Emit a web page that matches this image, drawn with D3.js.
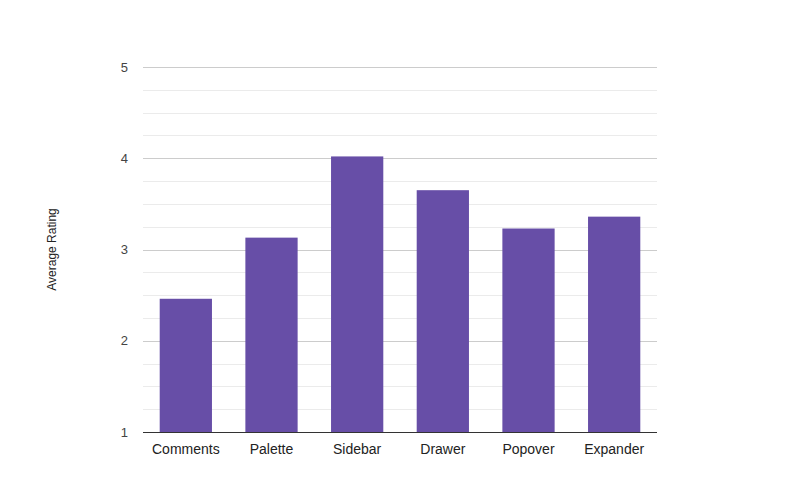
<!DOCTYPE html>
<html>
<head>
<meta charset="utf-8">
<script src="https://cdn.jsdelivr.net/npm/d3@7"></script>
<style>
  body { margin: 0; background: #fff; }
  svg { font-family: "Liberation Sans", Arial, sans-serif; }
</style>
</head>
<body>
<div id="chart"></div>
<script>
// data
const categories = ["Comments", "Palette", "Sidebar", "Drawer", "Popover", "Expander"];
const ratings = [2.46, 3.13, 4.02, 3.65, 3.23, 3.36];
const yTicks = [1, 2, 3, 4, 5];

const width = 800, height = 500;
const margin = { top: 67, right: 143, bottom: 68, left: 143 };

const svg = d3.select("#chart")
  .append("svg")
  .attr("width", width)
  .attr("height", height);

const x = d3.scaleBand()
  .domain(categories)
  .range([margin.left, width - margin.right])
  .paddingInner(0.39)
  .paddingOuter(0.195);

const y = d3.scaleLinear()
  .domain([1, 5])
  .range([height - margin.bottom, margin.top]);

// minor gridlines every 0.25
const minor = d3.range(1.25, 5, 0.25).filter(v => Math.abs(v - Math.round(v)) > 1e-6);
svg.append("g")
  .selectAll("line")
  .data(minor)
  .join("line")
  .attr("x1", margin.left)
  .attr("x2", width - margin.right)
  .attr("y1", d => Math.round(y(d)) + 0.5)
  .attr("y2", d => Math.round(y(d)) + 0.5)
  .attr("stroke", "#ebebeb");

// major gridlines
svg.append("g")
  .selectAll("line")
  .data(yTicks.slice(1))
  .join("line")
  .attr("x1", margin.left)
  .attr("x2", width - margin.right)
  .attr("y1", d => Math.round(y(d)) + 0.5)
  .attr("y2", d => Math.round(y(d)) + 0.5)
  .attr("stroke", "#cccccc");

// bars
svg.append("g")
  .selectAll("rect")
  .data(ratings)
  .join("rect")
  .attr("x", (d, i) => x(categories[i]))
  .attr("y", d => y(d))
  .attr("width", x.bandwidth())
  .attr("height", d => y(1) - y(d))
  .attr("fill", "#674ea7");

// baseline
svg.append("line")
  .attr("x1", margin.left)
  .attr("x2", width - margin.right)
  .attr("y1", Math.round(y(1)) + 0.5)
  .attr("y2", Math.round(y(1)) + 0.5)
  .attr("stroke", "#333333");

// y tick labels
svg.append("g")
  .selectAll("text")
  .data(yTicks)
  .join("text")
  .attr("x", 128)
  .attr("y", d => y(d))
  .attr("dy", "0.35em")
  .attr("text-anchor", "end")
  .attr("font-size", 13)
  .attr("fill", "#444")
  .text(d => d);

// x labels
svg.append("g")
  .selectAll("text")
  .data(categories)
  .join("text")
  .attr("x", d => x(d) + x.bandwidth() / 2)
  .attr("y", y(1) + 22)
  .attr("text-anchor", "middle")
  .attr("font-size", 14)
  .attr("fill", "#222")
  .text(d => d);

// y axis title
svg.append("text")
  .attr("transform", `translate(56, ${(y(1) + y(5)) / 2}) rotate(-90)`)
  .attr("text-anchor", "middle")
  .attr("font-size", 12)
  .attr("fill", "#222")
  .text("Average Rating");
</script>
</body>
</html>
